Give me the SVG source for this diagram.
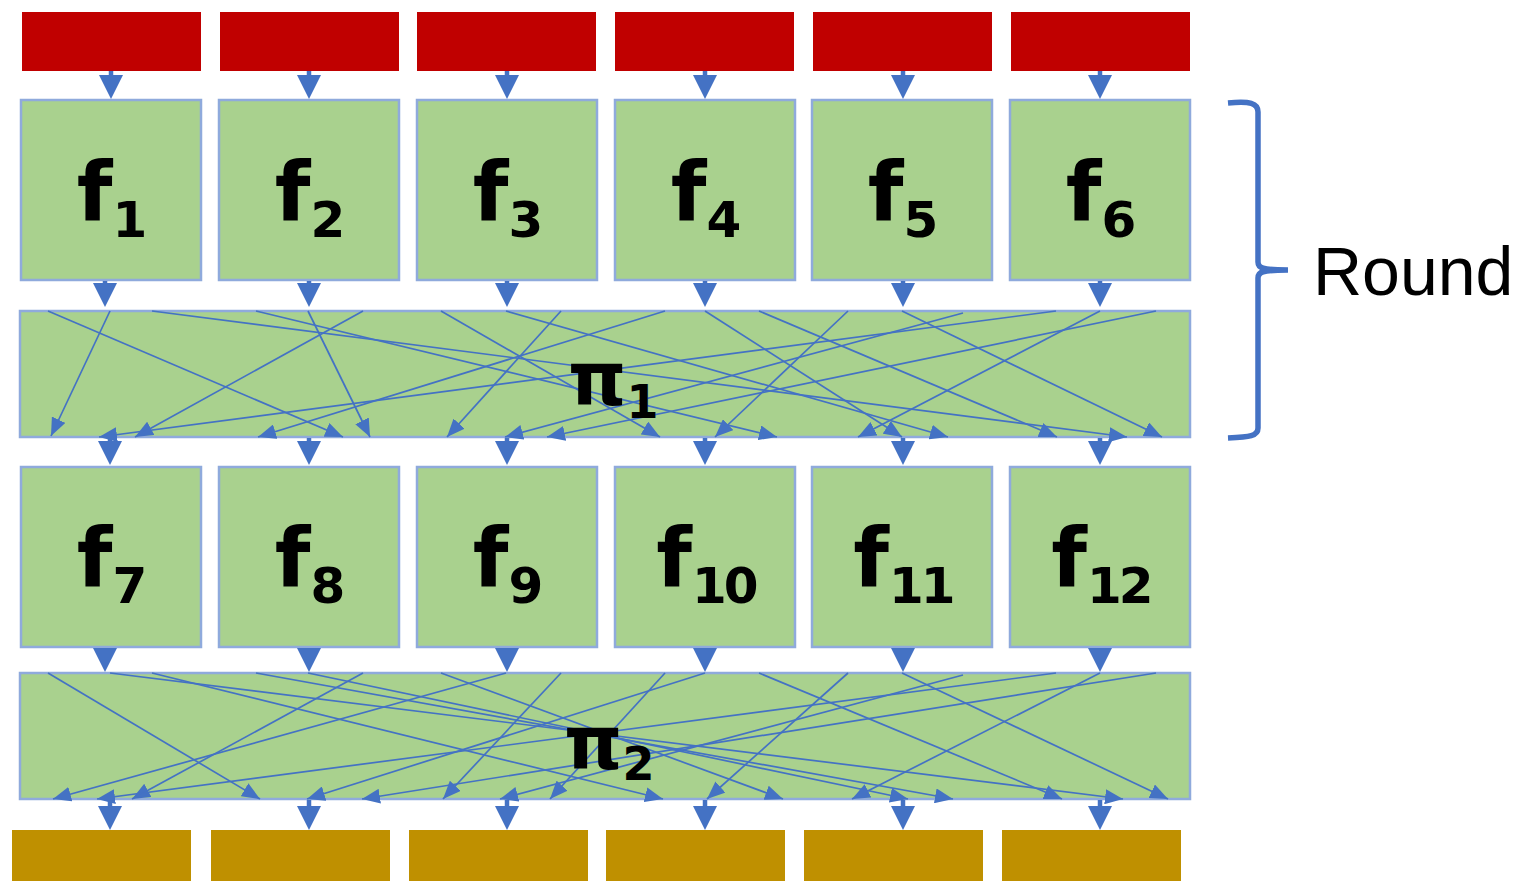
<svg xmlns="http://www.w3.org/2000/svg" width="1528" height="881" viewBox="0 0 1528 881">
<defs>
<style>
.red{fill:#c00000}
.brown{fill:#bf9000}
.box{fill:#a9d18e;stroke:#8faadc;stroke-width:2.5}
.lbl{font-family:"DejaVu Sans","Liberation Sans",sans-serif;font-weight:bold;fill:#000}
.thick{stroke:#4472c4;stroke-width:4.5;fill:none;marker-end:url(#big)}
.thin{stroke:#4472c4;stroke-width:1.7;fill:none;marker-end:url(#small)}
.brace{stroke:#4472c4;stroke-width:5.5;fill:none;stroke-linecap:butt}
.rt{font-family:"Liberation Sans",Arial,sans-serif;font-size:68px;fill:#000}
</style>
<marker id="big" markerUnits="userSpaceOnUse" markerWidth="24" markerHeight="24" viewBox="0 0 24 24" refX="12" refY="12" orient="auto"><path d="M0,0 L24,12 L0,24 z" fill="#4472c4"/></marker>
<marker id="small" markerUnits="userSpaceOnUse" markerWidth="18" markerHeight="15" viewBox="0 0 18 15" refX="18" refY="7.5" orient="auto"><path d="M0,0 L18,7.5 L0,15 z" fill="#4472c4"/></marker>
</defs>
<rect width="1528" height="881" fill="#fff"/>

<g id="inputs">
<rect id="in1" class="red" x="22" y="12" width="179" height="59"/>
<rect id="in2" class="red" x="220" y="12" width="179" height="59"/>
<rect id="in3" class="red" x="417" y="12" width="179" height="59"/>
<rect id="in4" class="red" x="615" y="12" width="179" height="59"/>
<rect id="in5" class="red" x="813" y="12" width="179" height="59"/>
<rect id="in6" class="red" x="1011" y="12" width="179" height="59"/>
</g>

<g id="f1"><rect class="box" x="21" y="100" width="180" height="180"/><text class="lbl" x="112" y="220" text-anchor="middle" font-size="82">f<tspan font-size="50" dy="17">1</tspan></text></g>
<g id="f2"><rect class="box" x="219" y="100" width="180" height="180"/><text class="lbl" x="310" y="220" text-anchor="middle" font-size="82">f<tspan font-size="50" dy="17">2</tspan></text></g>
<g id="f3"><rect class="box" x="417" y="100" width="180" height="180"/><text class="lbl" x="508" y="220" text-anchor="middle" font-size="82">f<tspan font-size="50" dy="17">3</tspan></text></g>
<g id="f4"><rect class="box" x="615" y="100" width="180" height="180"/><text class="lbl" x="706" y="220" text-anchor="middle" font-size="82">f<tspan font-size="50" dy="17">4</tspan></text></g>
<g id="f5"><rect class="box" x="812" y="100" width="180" height="180"/><text class="lbl" x="903" y="220" text-anchor="middle" font-size="82">f<tspan font-size="50" dy="17">5</tspan></text></g>
<g id="f6"><rect class="box" x="1010" y="100" width="180" height="180"/><text class="lbl" x="1101" y="220" text-anchor="middle" font-size="82">f<tspan font-size="50" dy="17">6</tspan></text></g>

<g id="pi1"><rect class="box" x="20" y="311" width="1170" height="126"/></g>

<g id="f7"><rect class="box" x="21" y="467" width="180" height="180"/><text class="lbl" x="112" y="586" text-anchor="middle" font-size="82">f<tspan font-size="50" dy="17">7</tspan></text></g>
<g id="f8"><rect class="box" x="219" y="467" width="180" height="180"/><text class="lbl" x="310" y="586" text-anchor="middle" font-size="82">f<tspan font-size="50" dy="17">8</tspan></text></g>
<g id="f9"><rect class="box" x="417" y="467" width="180" height="180"/><text class="lbl" x="508" y="586" text-anchor="middle" font-size="82">f<tspan font-size="50" dy="17">9</tspan></text></g>
<g id="f10"><rect class="box" x="615" y="467" width="180" height="180"/><text class="lbl" x="706" y="586" text-anchor="middle" font-size="82">f<tspan font-size="50" dy="17" letter-spacing="-3">10</tspan></text></g>
<g id="f11"><rect class="box" x="812" y="467" width="180" height="180"/><text class="lbl" x="903" y="586" text-anchor="middle" font-size="82">f<tspan font-size="50" dy="17" letter-spacing="-3">11</tspan></text></g>
<g id="f12"><rect class="box" x="1010" y="467" width="180" height="180"/><text class="lbl" x="1101" y="586" text-anchor="middle" font-size="82">f<tspan font-size="50" dy="17" letter-spacing="-3">12</tspan></text></g>

<g id="pi2"><rect class="box" x="20" y="673" width="1170" height="126"/></g>

<g id="outputs">
<rect id="out1" class="brown" x="12" y="830" width="179" height="51"/>
<rect id="out2" class="brown" x="211" y="830" width="179" height="51"/>
<rect id="out3" class="brown" x="409" y="830" width="179" height="51"/>
<rect id="out4" class="brown" x="606" y="830" width="179" height="51"/>
<rect id="out5" class="brown" x="804" y="830" width="179" height="51"/>
<rect id="out6" class="brown" x="1002" y="830" width="179" height="51"/>
</g>

<g id="connectors">
<line class="thick" x1="111" y1="71" x2="111" y2="87"/>
<line class="thick" x1="309" y1="71" x2="309" y2="87"/>
<line class="thick" x1="507" y1="71" x2="507" y2="87"/>
<line class="thick" x1="705" y1="71" x2="705" y2="87"/>
<line class="thick" x1="903" y1="71" x2="903" y2="87"/>
<line class="thick" x1="1100" y1="71" x2="1100" y2="87"/>

<line class="thick" x1="105" y1="281" x2="105" y2="295"/>
<line class="thick" x1="309" y1="281" x2="309" y2="295"/>
<line class="thick" x1="507" y1="281" x2="507" y2="295"/>
<line class="thick" x1="705" y1="281" x2="705" y2="295"/>
<line class="thick" x1="903" y1="281" x2="903" y2="295"/>
<line class="thick" x1="1100" y1="281" x2="1100" y2="295"/>

<line class="thick" x1="110" y1="438" x2="110" y2="453"/>
<line class="thick" x1="309" y1="438" x2="309" y2="453"/>
<line class="thick" x1="507" y1="438" x2="507" y2="453"/>
<line class="thick" x1="705" y1="438" x2="705" y2="453"/>
<line class="thick" x1="903" y1="438" x2="903" y2="453"/>
<line class="thick" x1="1100" y1="438" x2="1100" y2="453"/>

<line class="thick" x1="105" y1="648" x2="105" y2="660"/>
<line class="thick" x1="309" y1="648" x2="309" y2="660"/>
<line class="thick" x1="507" y1="648" x2="507" y2="660"/>
<line class="thick" x1="705" y1="648" x2="705" y2="660"/>
<line class="thick" x1="903" y1="648" x2="903" y2="660"/>
<line class="thick" x1="1100" y1="648" x2="1100" y2="660"/>

<line class="thick" x1="110" y1="800" x2="110" y2="818"/>
<line class="thick" x1="309" y1="800" x2="309" y2="818"/>
<line class="thick" x1="507" y1="800" x2="507" y2="818"/>
<line class="thick" x1="705" y1="800" x2="705" y2="818"/>
<line class="thick" x1="903" y1="800" x2="903" y2="818"/>
<line class="thick" x1="1100" y1="800" x2="1100" y2="818"/>

<g id="perm1">
<line class="thin" x1="48" y1="311" x2="343" y2="437"/>
<line class="thin" x1="110" y1="311" x2="51" y2="436"/>
<line class="thin" x1="152" y1="311" x2="1127" y2="437"/>
<line class="thin" x1="256" y1="311" x2="777" y2="437"/>
<line class="thin" x1="308" y1="311" x2="370" y2="437"/>
<line class="thin" x1="363" y1="311" x2="135" y2="437"/>
<line class="thin" x1="441" y1="311" x2="660" y2="437"/>
<line class="thin" x1="506" y1="311" x2="948" y2="437"/>
<line class="thin" x1="561" y1="311" x2="447" y2="437"/>
<line class="thin" x1="665" y1="311" x2="258" y2="437"/>
<line class="thin" x1="705" y1="311" x2="902" y2="437"/>
<line class="thin" x1="759" y1="311" x2="1057" y2="437"/>
<line class="thin" x1="848" y1="311" x2="715" y2="437"/>
<line class="thin" x1="902" y1="311" x2="1162" y2="437"/>
<line class="thin" x1="963" y1="313" x2="505" y2="437"/>
<line class="thin" x1="1056" y1="311" x2="99" y2="437"/>
<line class="thin" x1="1100" y1="311" x2="858" y2="437"/>
<line class="thin" x1="1156" y1="311" x2="547" y2="437"/>
</g>
<g id="perm2">
<line class="thin" x1="48" y1="673" x2="260" y2="799"/>
<line class="thin" x1="110" y1="673" x2="1123" y2="799"/>
<line class="thin" x1="152" y1="673" x2="663" y2="799"/>
<line class="thin" x1="256" y1="673" x2="953" y2="799"/>
<line class="thin" x1="308" y1="673" x2="908" y2="799"/>
<line class="thin" x1="363" y1="673" x2="132" y2="799"/>
<line class="thin" x1="441" y1="673" x2="783" y2="799"/>
<line class="thin" x1="506" y1="673" x2="53" y2="799"/>
<line class="thin" x1="561" y1="673" x2="443" y2="799"/>
<line class="thin" x1="665" y1="673" x2="550" y2="799"/>
<line class="thin" x1="705" y1="673" x2="307" y2="799"/>
<line class="thin" x1="759" y1="673" x2="1062" y2="799"/>
<line class="thin" x1="848" y1="673" x2="707" y2="799"/>
<line class="thin" x1="902" y1="673" x2="1168" y2="799"/>
<line class="thin" x1="963" y1="675" x2="500" y2="799"/>
<line class="thin" x1="1056" y1="673" x2="97" y2="799"/>
<line class="thin" x1="1100" y1="673" x2="852" y2="799"/>
<line class="thin" x1="1156" y1="673" x2="362" y2="799"/>
</g>
</g>

<g id="pi1-label"><text class="lbl" x="568" y="405" font-size="74">π<tspan font-size="46" dy="13">1</tspan></text></g>
<g id="pi2-label"><text class="lbl" x="564" y="769" font-size="74">π<tspan font-size="46" dy="11">2</tspan></text></g>

<g id="round">
<path class="brace" d="M1228,103 C1250,101 1258,103 1258,112 L1258,262 C1258,268 1262,270 1288,270 M1288,270 C1262,270 1258,272 1258,278 L1258,428 C1258,436 1250,437 1228,438"/>
<text class="rt" x="1313" y="295">Round</text>
</g>
</svg>
